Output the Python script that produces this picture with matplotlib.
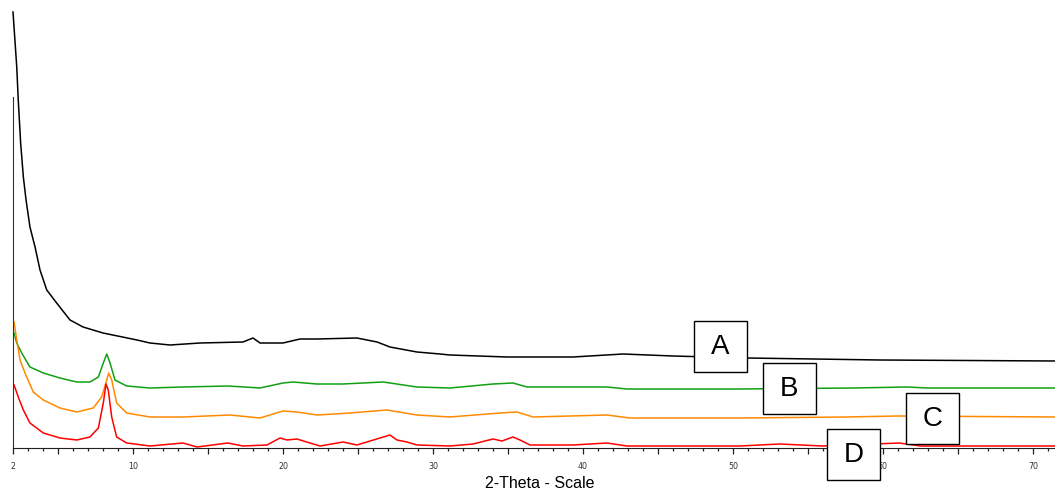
import numpy as np
import matplotlib
matplotlib.use("Agg")
import matplotlib.pyplot as plt
from matplotlib.patches import Rectangle

plt.rcParams['font.family'] = ['Liberation Sans', 'DejaVu Sans']

# 2-theta / intensity (arbitrary counts)
tt_a = [2.0, 2.25, 2.35, 2.51, 2.69, 2.87, 3.13, 3.47, 3.8, 4.25, 4.91, 5.8, 6.67,
        8.0, 10.27, 11.13, 12.47, 14.47, 17.33, 18.0, 18.47, 20.0, 21.13, 22.27,
        24.93, 26.27, 27.13, 28.93, 30.47, 31.13, 34.93, 39.33, 42.67, 46.0, 50.93,
        59.8, 71.47]
int_a = [436, 381, 348, 305, 271, 248, 221, 201, 178, 158, 145, 128, 121,
         115, 108, 105, 103, 105, 106, 110, 105, 105, 109, 109,
         110, 106, 101, 96, 94, 93, 91, 91, 94, 92, 90,
         88, 87]

tt_b = [2.07, 2.25, 2.58, 3.13, 4.02, 5.13, 6.25, 7.13, 7.69, 8.02, 8.25, 8.47, 8.8,
        9.58, 11.13, 13.33, 16.33, 18.47, 20.0, 20.67, 22.27, 24.0, 26.67, 27.13,
        28.93, 31.13, 34.0, 35.33, 36.27, 41.6, 42.93, 50.47, 58.0, 61.6, 63.0, 71.47]
int_b = [115, 105, 95, 81, 75, 70, 66, 66, 71, 85, 94, 85, 68,
         62, 60, 61, 62, 60, 65, 66, 64, 64, 66, 65,
         61, 60, 64, 65, 61, 61, 59, 59, 60, 61, 60, 60]

tt_c = [2.07, 2.25, 2.47, 2.8, 3.35, 4.02, 5.13, 6.25, 7.35, 7.91, 8.25, 8.38, 8.58,
        8.91, 9.58, 11.13, 13.33, 16.47, 18.47, 20.0, 20.93, 22.27, 24.47, 26.93,
        28.93, 31.13, 34.47, 35.6, 36.67, 41.6, 43.13, 50.47, 57.5, 61.0, 71.47]
int_c = [126, 108, 88, 75, 56, 48, 40, 36, 40, 51, 68, 75, 68,
         45, 35, 31, 31, 33, 30, 37, 36, 33, 35, 38,
         33, 31, 35, 36, 31, 33, 30, 30, 31, 32, 31]

tt_d = [2.07, 2.35, 2.69, 3.13, 4.02, 5.13, 6.25, 7.13, 7.69, 8.02, 8.2, 8.35, 8.58,
        8.91, 9.58, 11.13, 13.33, 14.27, 16.33, 17.33, 18.93, 19.8, 20.27, 20.93,
        21.8, 22.47, 24.0, 24.93, 27.13, 27.6, 28.27, 28.93, 31.13, 32.67, 34.0,
        34.6, 35.33, 35.8, 36.47, 39.33, 41.6, 42.93, 50.47, 53.1, 56.0, 61.1, 62.5,
        71.47]
int_d = [63, 51, 38, 25, 15, 10, 8, 11, 20, 45, 64, 58, 31,
         11, 5, 2, 5, 1, 5, 2, 3, 10, 8, 9,
         5, 2, 6, 3, 13, 8, 6, 3, 2, 4, 9,
         7, 11, 8, 3, 3, 5, 2, 2, 4, 2, 5, 2,
         2]

colors = ['black', '#12a012', '#ff8a00', '#ff0000']
labels = ['A', 'B', 'C', 'D']
# label box corners (2-theta, intensity)
box_x = [47.4, 52.0, 61.53, 56.27]
box_y = [76, 34, 4, -32]
box_w = 3.53
box_h = 51

xticks = [2, 5, 10, 15, 20, 25, 30, 35, 40, 45, 50, 55, 60, 65, 70]
xticklabels = ['2', '', '10', '', '20', '', '30', '', '40', '', '50', '', '60', '', '70']

fig = plt.figure(figsize=(10.55, 4.91), dpi=100)
ax = fig.add_axes([13 / 1055, 43 / 491, 1042 / 1055, 448 / 491])

for tt, cts, c in zip([tt_a, tt_b, tt_c, tt_d], [int_a, int_b, int_c, int_d], colors):
    ax.plot(tt, cts, color=c, lw=1.1, clip_on=False)

for lab, bx, by in zip(labels, box_x, box_y):
    ax.add_patch(Rectangle((bx, by), box_w, box_h, facecolor='white',
                           edgecolor='black', lw=1.0, zorder=5, clip_on=False))
    ax.text(bx + box_w / 2, by + box_h / 2, lab, fontsize=20, ha='center',
            va='center', zorder=6, clip_on=False)

ax.set_xlim(2, 2 + 1042 / 15)
ax.set_ylim(0, 448)
ax.set_xticks(xticks)
ax.set_xticklabels(xticklabels, family='DejaVu Sans')
ax.set_xticks(np.arange(3, 72, 1), minor=True)
ax.tick_params(axis='x', which='major', length=4.3, width=0.9, pad=6,
               labelsize=5.7, labelcolor='#333333', color='#222222')
ax.tick_params(axis='x', which='minor', length=2.5, width=0.9, color='#222222')
ax.set_yticks([])

for s in ['top', 'right']:
    ax.spines[s].set_visible(False)
ax.spines['left'].set_bounds(0, 351)
ax.spines['left'].set_color('#333333')
ax.spines['bottom'].set_color('#222222')

fig.text(540 / 1055, 1 - 484 / 491, '2-Theta - Scale', fontsize=11.5,
         ha='center', va='center')

fig.savefig('out.png', dpi=100)
